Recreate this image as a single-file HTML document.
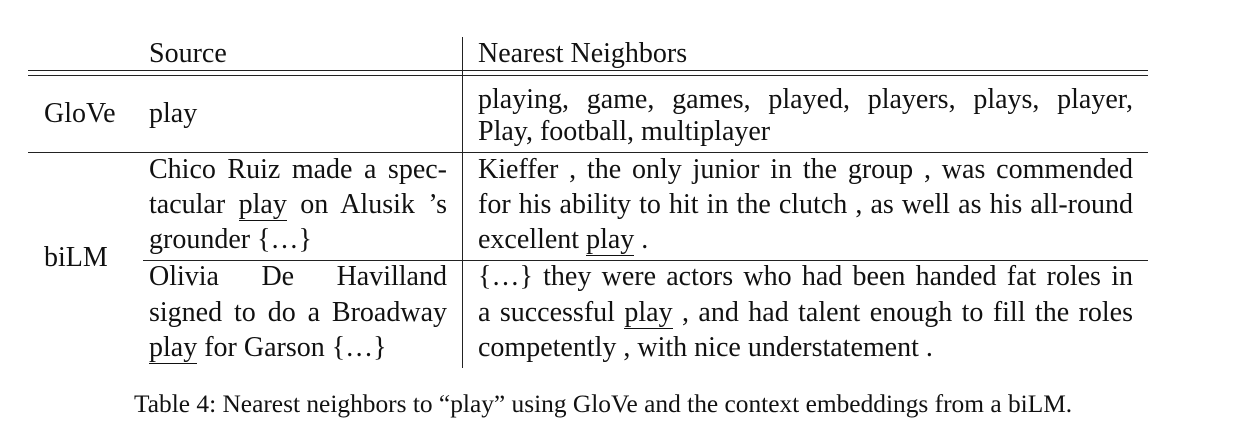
<!DOCTYPE html>
<html><head><meta charset="utf-8"><style>
body{margin:0;width:1236px;height:442px;background:#fff;position:relative;overflow:hidden;font-family:"Liberation Serif",serif;color:#111}
.t{position:absolute;font-size:28px;line-height:28px;white-space:nowrap}
.j{text-align:justify;text-align-last:justify}
.r{position:absolute;background:#222;height:1.3px}
u{text-decoration:none;border-bottom:1.3px solid #111;padding-bottom:0px}
</style></head><body>
<div>
<div class="t" style="left:149px;top:40px">Source</div>
<div class="t" style="left:478px;top:40px">Nearest Neighbors</div>
<div class="r" style="left:28px;width:1120px;top:70px"></div>
<div class="r" style="left:28px;width:1120px;top:75px"></div>
<div class="r" style="left:28px;width:1120px;top:152px"></div>
<div class="r" style="left:143px;width:1005px;top:260px"></div>
<div class="r" style="left:462px;width:1.3px;height:331px;top:37px"></div>

<div class="t" style="left:44px;top:100px">GloVe</div>
<div class="t" style="left:149px;top:100px">play</div>
<div class="t j" style="left:478px;top:86px;width:655px">playing, game, games, played, players, plays, player,</div>
<div class="t" style="left:478px;top:118px">Play, football, multiplayer</div>

<div class="t" style="left:44px;top:244px">biLM</div>
<div class="t j" style="left:149px;top:156px;width:298px">Chico Ruiz made a spec-</div>
<div class="t j" style="left:149px;top:191px;width:298px">tacular <u>play</u> on Alusik ’s</div>
<div class="t" style="left:149px;top:226px">grounder {…}</div>
<div class="t j" style="left:478px;top:156px;width:655px">Kieffer , the only junior in the group , was commended</div>
<div class="t j" style="left:478px;top:191px;width:655px">for his ability to hit in the clutch , as well as his all-round</div>
<div class="t" style="left:478px;top:226px">excellent <u>play</u> .</div>

<div class="t j" style="left:149px;top:263px;width:298px">Olivia De Havilland</div>
<div class="t j" style="left:149px;top:299px;width:298px">signed to do a Broadway</div>
<div class="t" style="left:149px;top:334px"><u>play</u> for Garson {…}</div>
<div class="t j" style="left:478px;top:263px;width:655px">{…} they were actors who had been handed fat roles in</div>
<div class="t j" style="left:478px;top:299px;width:655px">a successful <u>play</u> , and had talent enough to fill the roles</div>
<div class="t" style="left:478px;top:334px">competently , with nice understatement .</div>
</div>
<div class="t" style="left:134px;top:392px;font-size:25.4px;line-height:25px">Table 4: Nearest neighbors to “play” using GloVe and the context embeddings from a biLM.</div>
</body></html>
